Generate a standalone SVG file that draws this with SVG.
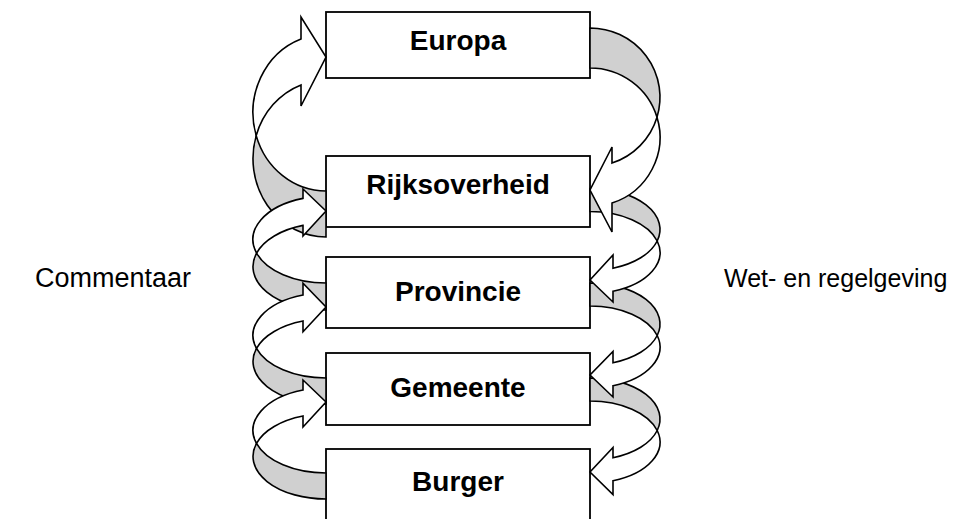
<svg xmlns="http://www.w3.org/2000/svg" width="969" height="519" viewBox="0 0 969 519">
  <style>
    .box { fill: #ffffff; stroke: #000000; stroke-width: 1.8; }
    .label { font-family: "Liberation Sans", Arial, sans-serif; font-size: 28px; font-weight: bold; fill: #000000; text-anchor: middle; }
    .side { font-family: "Liberation Sans", Arial, sans-serif; fill: #000000; }
    .front { fill: #ffffff; stroke: #000000; stroke-width: 1.6; stroke-linejoin: miter; }
    .back { fill: #d0d0d0; stroke: #000000; stroke-width: 1.6; stroke-linejoin: miter; }
  </style>

  <rect width="969" height="519" fill="#ffffff"/>

  <!-- levels of government -->
  <g id="europa">
    <rect class="box" x="326" y="12" width="264" height="66"/>
    <text class="label" x="458" y="50">Europa</text>
  </g>
  <g id="rijksoverheid">
    <rect class="box" x="326" y="156" width="264" height="71"/>
    <text class="label" x="458" y="194">Rijksoverheid</text>
  </g>
  <g id="provincie">
    <rect class="box" x="326" y="257" width="264" height="71"/>
    <text class="label" x="458" y="301">Provincie</text>
  </g>
  <g id="gemeente">
    <rect class="box" x="326" y="353" width="264" height="72"/>
    <text class="label" x="458" y="397">Gemeente</text>
  </g>
  <g id="burger">
    <rect class="box" x="326" y="449" width="264" height="90"/>
    <text class="label" x="458" y="491">Burger</text>
  </g>

  <!-- curved ribbon arrows: grey = back of the ribbon, white = front with head -->
  <g id="connectors">
    <!-- right side: regulation flows downward (drawn bottom-up so upper heads overlap lower tails) -->
    <g id="wet-gemeente-burger">
      <path class="back" d="M590,378 A70,41 0 0 1 657.2,430.5 A70,41 0 0 0 590,401 Z"/>
      <path class="front" d="M657.2,430.5 A70,41 0 0 1 613,480.7 L613,494.5 L590,472 L613,447.5 L613,457.7 A70,41 0 0 0 657.2,430.5 Z"/>
    </g>
    <g id="wet-provincie-gemeente">
      <path class="back" d="M590,283 A70,41 0 0 1 657.2,335.5 A70,41 0 0 0 590,306 Z"/>
      <path class="front" d="M657.2,335.5 A70,41 0 0 1 613,385.7 L613,397 L590,375 L613,351.5 L613,362.7 A70,41 0 0 0 657.2,335.5 Z"/>
    </g>
    <g id="wet-rijk-provincie">
      <path class="back" d="M590,188.5 A70,41 0 0 1 657.2,241 A70,41 0 0 0 590,211.5 Z"/>
      <path class="front" d="M657.2,241 A70,41 0 0 1 613,291.2 L613,302 L590,280 L613,255 L613,268.2 A70,41 0 0 0 657.2,241 Z"/>
    </g>
    <g id="wet-europa-rijk">
      <path class="back" d="M590,28 A70,69.3 0 0 1 657,117.3 A70,69.3 0 0 0 590,68 Z"/>
      <path class="front" d="M657,117.3 A70,69.3 0 0 1 612,203.1 L612,232 L590,190 L612,147 L612,163.1 A70,69.3 0 0 0 657,117.3 Z"/>
    </g>

    <!-- left side: comments flow upward (drawn top-down so lower heads overlap upper tails) -->
    <g id="commentaar-rijk-europa">
      <path class="back" d="M256.2,135.6 A73,78.4 0 0 0 326,191 L326,237 A73,78.4 0 0 1 256.2,135.6 Z"/>
      <path class="front" d="M301,38.9 A73,78.4 0 0 0 256.2,135.6 A73,78.4 0 0 1 301,84.9 L301,106 L326,57 L301,17 Z"/>
    </g>
    <g id="commentaar-provincie-rijk">
      <path class="back" d="M256.6,253.1 A73,43.4 0 0 0 326,283 L326,310 A73,43.4 0 0 1 256.6,253.1 Z"/>
      <path class="front" d="M303,198.4 A73,43.4 0 0 0 256.6,253.1 A73,43.4 0 0 1 303,225.4 L303,236 L326,211 L303,189 Z"/>
    </g>
    <g id="commentaar-gemeente-provincie">
      <path class="back" d="M256.5,348.4 A73,42.6 0 0 0 326,378 L326,404 A73,42.6 0 0 1 256.5,348.4 Z"/>
      <path class="front" d="M303,295 A73,42.6 0 0 0 256.5,348.4 A73,42.6 0 0 1 303,321 L303,331.7 L326,307 L303,283.3 Z"/>
    </g>
    <g id="commentaar-burger-gemeente">
      <path class="back" d="M256.5,443.4 A73,42.6 0 0 0 326,473 L326,499 A73,42.6 0 0 1 256.5,443.4 Z"/>
      <path class="front" d="M303,390 A73,42.6 0 0 0 256.5,443.4 A73,42.6 0 0 1 303,416 L303,427 L326,402 L303,380 Z"/>
    </g>
  </g>

  <!-- side captions -->
  <text class="side" x="35" y="287" font-size="27">Commentaar</text>
  <text class="side" x="724" y="287" font-size="25">Wet- en regelgeving</text>
</svg>
